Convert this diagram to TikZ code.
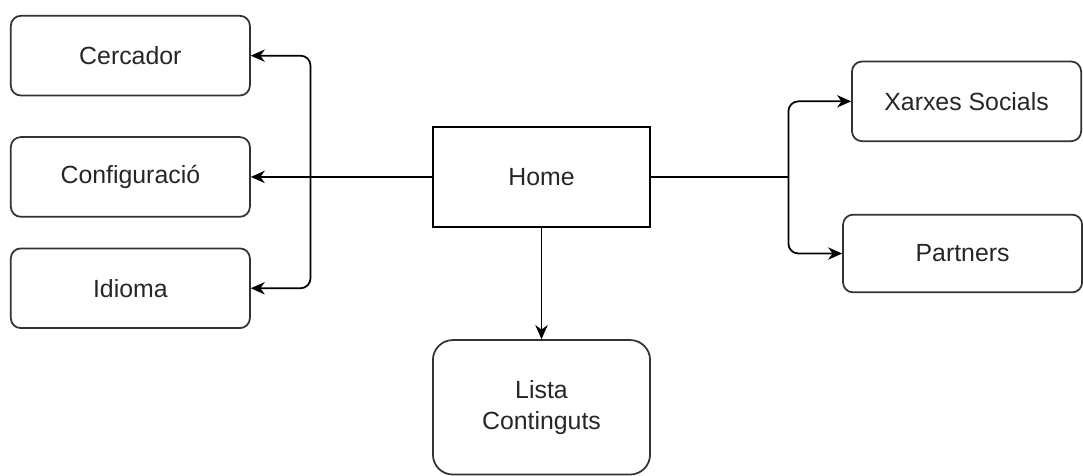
\documentclass[tikz,border=0pt]{standalone}
\usepackage{fontspec}
\setmainfont{Liberation Sans}
\usepackage{tikz}
\usetikzlibrary{arrows.meta,positioning,calc}

\begin{document}
\begin{tikzpicture}[>={Stealth[length=8pt,width=7pt,inset=2.5pt]}, line width=1pt]
    \tikzset{
        menubox/.style={draw=black!80, rectangle, rounded corners=0.2cm, minimum height=1.6cm, minimum width=4.8cm, align=center, text=black!85, font=\fontsize{14.2}{17.5}\selectfont},
        homebox/.style={menubox, rounded corners=0pt, draw=black, minimum height=2cm, minimum width=4.36cm},
        line/.style={draw, ->, rounded corners=0.2cm}
    }
    \node [homebox] (home) {Home};
    \node [menubox, left=3.64cm of home] (conf) {Configuració};
    \node [menubox, above=0.8cm of conf] (cercador) {Cercador};
    \node [menubox, below=0.6cm of conf] (idioma) {Idioma};
    \node [menubox, rounded corners=0.4cm, minimum width=4.36cm, minimum height=2.7cm, below=2.24cm of home] (lista) {Lista\\Continguts};
    \node [menubox, minimum width=4.6cm, above right=0.7cm and 4.02cm of home.east] (xarxes) {Xarxes Socials};
    \node [menubox, minimum height=1.56cm, below right=0.74cm and 3.84cm of home.east] (partners) {Partners};

    \coordinate (lbus) at ($(conf.east)+(1.2,0)$);
    \coordinate (rbus) at ($(home.east)+(2.76,0)$);

    \path [line] (home.west) -- (conf.east);
    \path [line] (lbus) |- (cercador.east);
    \path [line] (lbus) |- (idioma.east);
    \path [line] (home.south) -- (lista.north);
    \draw (home.east) -- (rbus);
    \path [line] (rbus) |- (xarxes.west);
    \path [line] (rbus) |- (partners.west);

    \useasboundingbox ($(cercador.north west)+(-0.2,0.3)$) rectangle ($(cercador.north west)+(21.46,-9.18)$);
\end{tikzpicture}
\end{document}
